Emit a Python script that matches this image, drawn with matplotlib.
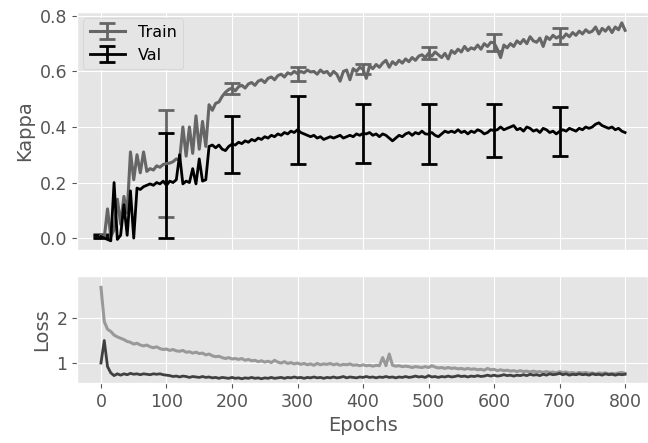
import numpy as np
import matplotlib
matplotlib.use("Agg")
import matplotlib.pyplot as plt

# values read every 5 epochs (0..800)
epochs = np.arange(0, 805, 5)

train_kappa = [
    0.010, 0.000, 0.105, 0.005, 0.030, 0.140, 0.050, 0.150, 0.090, 0.310,
    0.210, 0.300, 0.235, 0.310, 0.240, 0.250, 0.245, 0.260, 0.255, 0.265,
    0.268, 0.270, 0.275, 0.285, 0.280, 0.400, 0.295, 0.400, 0.305, 0.440,
    0.320, 0.420, 0.330, 0.480, 0.460, 0.485, 0.490, 0.510, 0.525, 0.535,
    0.540, 0.530, 0.545, 0.550, 0.540, 0.555, 0.560, 0.550, 0.565, 0.570,
    0.560, 0.575, 0.580, 0.570, 0.585, 0.590, 0.580, 0.595, 0.590, 0.600,
    0.592, 0.600, 0.595, 0.605, 0.598, 0.600, 0.590, 0.605, 0.595, 0.600,
    0.585, 0.600, 0.590, 0.565, 0.600, 0.605, 0.570, 0.610, 0.600, 0.615,
    0.608, 0.575, 0.620, 0.610, 0.625, 0.615, 0.630, 0.640, 0.615, 0.635,
    0.625, 0.640, 0.630, 0.645, 0.635, 0.650, 0.640, 0.655, 0.660, 0.650,
    0.665, 0.655, 0.670, 0.660, 0.650, 0.665, 0.645, 0.675, 0.665, 0.680,
    0.670, 0.690, 0.675, 0.685, 0.680, 0.695, 0.680, 0.700, 0.690, 0.705,
    0.703, 0.680, 0.650, 0.695, 0.685, 0.700, 0.690, 0.710, 0.700, 0.715,
    0.700, 0.725, 0.710, 0.705, 0.720, 0.690, 0.725, 0.715, 0.730, 0.720,
    0.727, 0.720, 0.735, 0.725, 0.740, 0.730, 0.745, 0.735, 0.750, 0.740,
    0.745, 0.760, 0.735, 0.755, 0.745, 0.760, 0.740, 0.760, 0.750, 0.775,
    0.748,
]

val_kappa = [
    0.005, 0.000, -0.005, -0.010, 0.200, -0.005, 0.010, 0.120, 0.010, 0.170,
    0.000, 0.180, 0.175, 0.185, 0.190, 0.195, 0.190, 0.200, 0.195, 0.205,
    0.190, 0.205, 0.200, 0.210, 0.300, 0.195, 0.205, 0.200, 0.250, 0.195,
    0.285, 0.205, 0.210, 0.330, 0.335, 0.325, 0.335, 0.320, 0.315, 0.330,
    0.338, 0.335, 0.345, 0.340, 0.350, 0.345, 0.355, 0.350, 0.360, 0.355,
    0.365, 0.360, 0.370, 0.365, 0.375, 0.370, 0.380, 0.375, 0.385, 0.380,
    0.390, 0.380, 0.375, 0.370, 0.365, 0.370, 0.360, 0.365, 0.355, 0.360,
    0.365, 0.360, 0.365, 0.370, 0.360, 0.365, 0.370, 0.365, 0.375, 0.370,
    0.377, 0.375, 0.380, 0.370, 0.375, 0.365, 0.375, 0.370, 0.360, 0.350,
    0.360, 0.370, 0.365, 0.375, 0.380, 0.370, 0.380, 0.375, 0.385, 0.375,
    0.374, 0.380, 0.370, 0.365, 0.375, 0.385, 0.380, 0.385, 0.380, 0.390,
    0.380, 0.385, 0.375, 0.385, 0.380, 0.390, 0.385, 0.375, 0.380, 0.390,
    0.387, 0.390, 0.400, 0.390, 0.395, 0.400, 0.405, 0.390, 0.395, 0.385,
    0.400, 0.395, 0.385, 0.390, 0.380, 0.395, 0.390, 0.380, 0.385, 0.375,
    0.384, 0.390, 0.385, 0.395, 0.390, 0.385, 0.395, 0.390, 0.400, 0.395,
    0.400, 0.410, 0.415, 0.405, 0.400, 0.395, 0.400, 0.390, 0.395, 0.385,
    0.380,
]

# half-widths of the error bars at epochs 0, 100, ..., 700
err_epochs = [0, 100, 200, 300, 400, 500, 600, 700]
train_err = [0.005, 0.193, 0.020, 0.025, 0.018, 0.022, 0.031, 0.028]
val_err = [0.006, 0.190, 0.102, 0.122, 0.105, 0.107, 0.096, 0.087]

train_loss = [
    2.68, 1.92, 1.75, 1.70, 1.62, 1.58, 1.55, 1.52, 1.48, 1.46,
    1.42, 1.44, 1.40, 1.38, 1.40, 1.36, 1.34, 1.36, 1.32, 1.30,
    1.31, 1.28, 1.30, 1.27, 1.26, 1.28, 1.24, 1.25, 1.22, 1.24,
    1.21, 1.22, 1.18, 1.20, 1.16, 1.14, 1.15, 1.12, 1.10, 1.12,
    1.09, 1.10, 1.08, 1.10, 1.06, 1.08, 1.05, 1.06, 1.03, 1.05,
    1.02, 1.04, 1.01, 1.06, 1.02, 1.00, 1.03, 0.99, 1.01, 0.98,
    1.00, 0.97, 0.99, 0.96, 0.98, 0.95, 0.99, 0.96, 0.98, 0.97,
    0.99, 0.96, 0.98, 0.95, 0.97, 0.96, 0.98, 0.95, 0.96, 0.94,
    0.96, 0.94, 0.95, 0.93, 0.95, 0.94, 1.12, 0.94, 1.20, 0.95,
    0.93, 0.94, 0.92, 0.93, 0.92, 0.90, 0.92, 0.91, 0.90, 0.92,
    0.90, 0.94, 0.91, 0.89, 0.90, 0.88, 0.90, 0.88, 0.89, 0.87,
    0.88, 0.86, 0.88, 0.86, 0.87, 0.85, 0.86, 0.84, 0.88, 0.85,
    0.86, 0.83, 0.85, 0.83, 0.84, 0.82, 0.83, 0.81, 0.83, 0.81,
    0.82, 0.80, 0.82, 0.80, 0.81, 0.79, 0.81, 0.79, 0.80, 0.78,
    0.81, 0.79, 0.80, 0.78, 0.79, 0.77, 0.79, 0.78, 0.79, 0.77,
    0.78, 0.76, 0.78, 0.77, 0.78, 0.76, 0.77, 0.76, 0.78, 0.79,
    0.77,
]

val_loss = [
    1.00, 1.50, 0.92, 0.78, 0.72, 0.76, 0.73, 0.76, 0.74, 0.77,
    0.75, 0.76, 0.74, 0.76, 0.75, 0.74, 0.76, 0.75, 0.76, 0.74,
    0.73, 0.72, 0.70, 0.71, 0.69, 0.71, 0.70, 0.68, 0.70, 0.69,
    0.68, 0.70, 0.68, 0.69, 0.67, 0.68, 0.66, 0.68, 0.67, 0.66,
    0.68, 0.66, 0.67, 0.65, 0.67, 0.66, 0.68, 0.66, 0.67, 0.65,
    0.67, 0.66, 0.68, 0.66, 0.67, 0.68, 0.66, 0.68, 0.67, 0.69,
    0.67, 0.68, 0.66, 0.68, 0.67, 0.69, 0.67, 0.68, 0.66, 0.68,
    0.67, 0.69, 0.67, 0.68, 0.70, 0.67, 0.69, 0.68, 0.67, 0.69,
    0.68, 0.70, 0.68, 0.69, 0.67, 0.69, 0.68, 0.70, 0.68, 0.69,
    0.67, 0.69, 0.68, 0.70, 0.68, 0.69, 0.71, 0.69, 0.70, 0.68,
    0.72, 0.69, 0.70, 0.68, 0.70, 0.69, 0.71, 0.69, 0.70, 0.72,
    0.70, 0.71, 0.69, 0.71, 0.70, 0.72, 0.70, 0.71, 0.73, 0.71,
    0.73, 0.71, 0.72, 0.74, 0.72, 0.73, 0.71, 0.73, 0.72, 0.74,
    0.72, 0.75, 0.73, 0.74, 0.72, 0.75, 0.73, 0.76, 0.74, 0.75,
    0.77, 0.74, 0.76, 0.73, 0.75, 0.74, 0.76, 0.74, 0.75, 0.73,
    0.76, 0.74, 0.75, 0.73, 0.76, 0.74, 0.75, 0.73, 0.75, 0.74,
    0.75,
]

plt.style.use("ggplot")
plt.rcParams["font.family"] = "DejaVu Sans"

is_err = np.isin(epochs, err_epochs)
train_yerr = np.zeros(len(epochs))
train_yerr[is_err] = train_err
val_yerr = np.zeros(len(epochs))
val_yerr[is_err] = val_err

fig = plt.figure(figsize=(6.48, 4.43), dpi=100)
ax1 = fig.add_axes([77 / 648, 1 - 250 / 443, 571 / 648, 238 / 443])
ax2 = fig.add_axes([77 / 648, 1 - 383 / 443, 571 / 648, 107 / 443])

ax1.errorbar(epochs, train_kappa, yerr=train_yerr, errorevery=is_err, color="#666666",
             lw=2.2, elinewidth=2, capsize=6, capthick=2, label="Train")
ax1.errorbar(epochs, val_kappa, yerr=val_yerr, errorevery=is_err, color="black",
             lw=2, elinewidth=2, capsize=6, capthick=2, label="Val")
ax1.set_xlim(-36.6, 835)
ax1.set_ylim(-0.043, 0.814)
ax1.set_yticks([0.0, 0.2, 0.4, 0.6, 0.8])
ax1.set_xticks(range(0, 900, 100))
ax1.tick_params(axis="x", labelbottom=False, length=0)
ax1.tick_params(axis="y", labelsize=12.5, colors="#555555")
ax1.set_ylabel("Kappa", fontsize=14, color="#555555")
ax1.legend(loc="upper left", fontsize=11.5, facecolor="#e5e5e5", edgecolor="#d0d0d0",
           framealpha=1, handlelength=2.2, borderaxespad=0.4)

ax2.plot(epochs, train_loss, color="#999999", lw=2.2)
ax2.plot(epochs, val_loss, color="#404040", lw=2)
ax2.set_xlim(-36.6, 835)
ax2.set_ylim(0.556, 2.933)
ax2.set_yticks([1, 2])
ax2.set_xticks(range(0, 900, 100))
ax2.tick_params(labelsize=12.5, colors="#555555")
ax2.set_ylabel("Loss", fontsize=14, color="#555555")
ax2.set_xlabel("Epochs", fontsize=14, color="#555555")

fig.savefig("out.png", dpi=100)
